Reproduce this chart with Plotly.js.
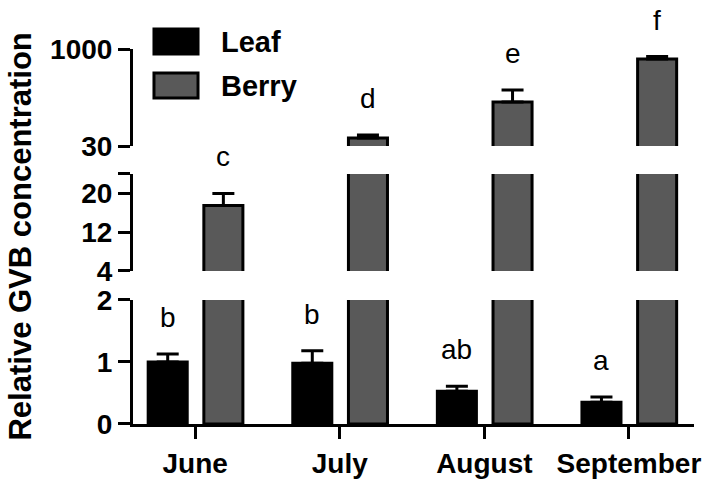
<!DOCTYPE html>
<html>
<head>
<meta charset="utf-8">
<script src="https://cdn.plot.ly/plotly-3.0.1.min.js"></script>
<style>
  body { margin: 0; background: #fff; }
  #chart { width: 709px; height: 479px; }
</style>
</head>
<body>
<div id="chart"></div>
<script>
// data
const months = ['June', 'July', 'August', 'September'];
const leafVal = [1.0, 0.98, 0.53, 0.35];
const leafErr = [0.13, 0.2, 0.08, 0.085];
const berryVal = [17.5, 110, 470, 900];
const berryErr = [2.5, 30, 120, 25];
const leafLetters = ['b', 'b', 'ab', 'a'];
const berryLetters = ['c', 'd', 'e', 'f'];

// broken y axis: three segments
const lowRange = [0, 2];
const midRange = [4, 24];
const topRange = [30, 1000];

const barW = 0.27;
const leafOff = -0.325;
const berryOff = 0.06;
const grey = '#595959';
const font = 'Liberation Sans, Arial, sans-serif';

function barTrace(vals, errs, color, off, yaxis, range) {
    // drop bars that end below this segment, otherwise plotly draws a flat outline at its foot
    var y = vals.map(v => v < range[0] ? null : v);
    return {
        x: months,
        y: y,
        type: 'bar',
        yaxis: yaxis,
        width: barW,
        offset: off,
        marker: { color: color, line: { color: '#000', width: 3 } },
        error_y: { type: 'data', array: errs, arrayminus: errs.map(() => 0), symmetric: false,
                   color: '#000', thickness: 3, width: 11 },
        showlegend: false,
        hoverinfo: 'skip'
    };
}

var data = [
    barTrace(leafVal, leafErr, '#000', leafOff, 'y', lowRange),
    barTrace(berryVal, berryErr, grey, berryOff, 'y', lowRange),
    barTrace(berryVal, berryErr, grey, berryOff, 'y2', midRange),
    barTrace(berryVal, berryErr, grey, berryOff, 'y3', topRange)
];

function axisFor(v) {
    if (v <= lowRange[1]) return 'y';
    if (v <= midRange[1]) return 'y2';
    return 'y3';
}

var annotations = [];
for (let i = 0; i < months.length; i++) {
    let lt = leafVal[i] + leafErr[i];
    annotations.push({
        x: i + leafOff + barW / 2, y: lt, xref: 'x', yref: axisFor(lt),
        text: leafLetters[i], showarrow: false, xanchor: 'center', yanchor: 'bottom', yshift: 19,
        font: { family: font, size: 28, color: '#000' }
    });
    let bt = berryVal[i] + berryErr[i];
    annotations.push({
        x: i + berryOff + barW / 2, y: bt, xref: 'x', yref: axisFor(bt),
        text: berryLetters[i], showarrow: false, xanchor: 'center', yanchor: 'bottom', yshift: 19,
        font: { family: font, size: 28, color: '#000' }
    });
}

// y axis title
annotations.push({
    x: -0.2014, y: 0.5, xref: 'paper', yref: 'paper', textangle: -90,
    xanchor: 'center', yanchor: 'middle',
    text: 'Relative GVB concentration', showarrow: false,
    font: { family: font, size: 31, color: '#000', weight: 'bold' }
});

// legend drawn by hand (large swatches)
annotations.push({
    x: 0.153, y: 1.019, xref: 'paper', yref: 'paper', xanchor: 'left', yanchor: 'middle',
    text: 'Leaf', showarrow: false,
    font: { family: font, size: 29, color: '#000', weight: 'bold' }
});
annotations.push({
    x: 0.153, y: 0.901, xref: 'paper', yref: 'paper', xanchor: 'left', yanchor: 'middle',
    text: 'Berry', showarrow: false,
    font: { family: font, size: 29, color: '#000', weight: 'bold' }
});

var shapes = [
    { type: 'rect', xref: 'paper', yref: 'paper', x0: 0.0374, x1: 0.1159, y0: 0.9867, y1: 1.0533,
      fillcolor: '#000', line: { color: '#000', width: 3 } },
    { type: 'rect', xref: 'paper', yref: 'paper', x0: 0.0374, x1: 0.1159, y0: 0.8693, y1: 0.936,
      fillcolor: grey, line: { color: '#000', width: 3 } }
];

const yCommon = {
    showline: true, linewidth: 3, linecolor: '#000',
    ticks: 'outside', ticklen: 12, tickwidth: 3, tickcolor: '#000',
    showgrid: false, zeroline: false, anchor: 'x', fixedrange: true,
    tickfont: { family: font, size: 28, color: '#000', weight: 'bold' }
};

var layout = {
    width: 709,
    height: 479,
    margin: { l: 133, r: 15, t: 49, b: 55 },
    paper_bgcolor: '#fff',
    plot_bgcolor: 'rgba(0,0,0,0)',
    barmode: 'overlay',
    xaxis: {
        type: 'category', categoryarray: months, range: [-0.43, 3.45],
        showline: true, linewidth: 3, linecolor: '#000',
        ticks: 'outside', ticklen: 12, tickwidth: 3, tickcolor: '#000',
        showgrid: false, zeroline: false, anchor: 'y', fixedrange: true,
        tickfont: { family: font, size: 28, color: '#000', weight: 'bold' }
    },
    yaxis: Object.assign({}, yCommon, {
        domain: [0, 0.3307], range: lowRange, tickvals: [0, 1, 2]
    }),
    yaxis2: Object.assign({}, yCommon, {
        domain: [0.408, 0.6667], range: midRange, tickvals: [4, 12, 20, 24], ticktext: ['4', '12', '20', '']
    }),
    yaxis3: Object.assign({}, yCommon, {
        domain: [0.7413, 1], range: topRange, tickvals: [30, 1000]
    }),
    annotations: annotations,
    shapes: shapes
};

Plotly.newPlot('chart', data, layout, { displayModeBar: false, staticPlot: true });
</script>
</body>
</html>
